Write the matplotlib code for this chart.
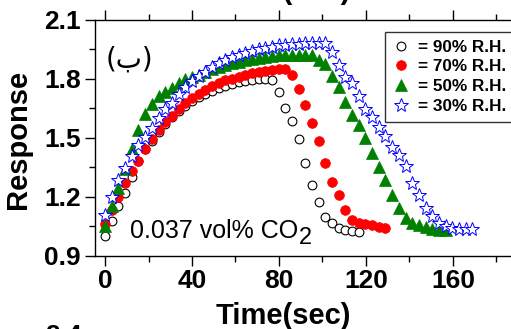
import matplotlib
matplotlib.use("Agg")
import matplotlib.pyplot as plt
from matplotlib.ticker import FixedLocator

plt.rcParams['font.family'] = ['Liberation Sans', 'DejaVu Sans']

# Time axis (s), sampled roughly every 3 s
time = [0.0, 3.1, 6.1, 9.2, 12.3, 15.4, 18.4, 21.5, 24.6, 27.6, 30.7, 33.8, 36.8, 39.9,
        43.0, 46.1, 49.1, 52.2, 55.3, 58.3, 61.4, 64.5, 67.5, 70.6, 73.7, 76.8, 79.8,
        82.9, 86.0, 89.0, 92.1, 95.2, 98.2, 101.3, 104.4, 107.5, 110.5, 113.6, 116.7,
        119.7, 122.8, 125.9, 128.9, 132.0, 135.1, 138.2, 141.2, 144.3, 147.4, 150.4,
        153.5, 156.6, 159.6, 162.7, 165.8, 168.9]

rh90 = [1.00, 1.075, 1.15, 1.22, 1.30, 1.38, 1.44, 1.48, 1.53, 1.57, 1.605, 1.635, 1.66,
        1.685, 1.705, 1.72, 1.735, 1.75, 1.76, 1.77, 1.78, 1.785, 1.79, 1.795, 1.795, 1.79,
        1.73, 1.65, 1.585, 1.49, 1.37, 1.26, 1.17, 1.095, 1.065, 1.042, 1.03, 1.025, 1.021]

rh70 = [1.06, 1.13, 1.20, 1.27, 1.33, 1.38, 1.44, 1.49, 1.54, 1.58, 1.61, 1.645, 1.675,
        1.70, 1.72, 1.74, 1.76, 1.775, 1.79, 1.80, 1.81, 1.82, 1.83, 1.835, 1.84, 1.845,
        1.85, 1.85, 1.82, 1.745, 1.665, 1.575, 1.48, 1.37, 1.275, 1.21, 1.13, 1.08, 1.066,
        1.06, 1.053, 1.046, 1.041]

rh50 = [1.05, 1.15, 1.245, 1.34, 1.44, 1.54, 1.62, 1.67, 1.71, 1.73, 1.75, 1.775, 1.795,
        1.81, 1.82, 1.835, 1.85, 1.86, 1.87, 1.878, 1.885, 1.892, 1.898, 1.904, 1.91, 1.914,
        1.917, 1.92, 1.922, 1.922, 1.922, 1.92, 1.895, 1.875, 1.815, 1.755, 1.68, 1.615,
        1.565, 1.495, 1.42, 1.35, 1.285, 1.21, 1.14, 1.09, 1.065, 1.053, 1.043, 1.036,
        1.03, 1.028]

rh30 = [1.105, 1.20, 1.285, 1.345, 1.405, 1.46, 1.505, 1.55, 1.60, 1.645, 1.675, 1.72,
        1.755, 1.785, 1.815, 1.835, 1.86, 1.88, 1.895, 1.91, 1.92, 1.93, 1.94, 1.948, 1.955,
        1.962, 1.968, 1.972, 1.975, 1.977, 1.978, 1.98, 1.98, 1.98, 1.935, 1.87, 1.81,
        1.775, 1.71, 1.645, 1.605, 1.555, 1.51, 1.45, 1.41, 1.355, 1.27, 1.21, 1.14, 1.10,
        1.066, 1.049, 1.041, 1.036, 1.036, 1.036]

labels = ['= 90% R.H.', '= 70% R.H.', '= 50% R.H.', '= 30% R.H.']
xticks = [0, 40, 80, 120, 160]
xminor = [20, 60, 100, 140, 180]
yticks = [0.9, 1.2, 1.5, 1.8, 2.1]
yminor = [1.05, 1.35, 1.65, 1.95]

W, H = 511, 329
fig = plt.figure(figsize=(W / 100, H / 100), dpi=100)
ax = fig.add_axes([95 / W, 73.5 / H, 423 / W, 236 / H])

h1, = ax.plot(time[:len(rh90)], rh90, linestyle='none', marker='o', ms=6.3,
              mfc='white', mec='black', mew=0.8)
h2, = ax.plot(time[:len(rh70)], rh70, linestyle='none', marker='o', ms=7.0,
              mfc='red', mec='red', mew=0.5)
h3, = ax.plot(time[:len(rh50)], rh50, linestyle='none', marker='^', ms=8.0,
              mfc='green', mec='green', mew=0.5)
h4, = ax.plot(time[:len(rh30)], rh30, linestyle='none', marker='*', ms=10.0,
              mfc='white', mec='blue', mew=0.7)

ax.set_xlim(-4.6, 189.9)
ax.set_ylim(0.9, 2.1)
ax.xaxis.set_major_locator(FixedLocator(xticks))
ax.xaxis.set_minor_locator(FixedLocator(xminor))
ax.yaxis.set_major_locator(FixedLocator(yticks))
ax.yaxis.set_minor_locator(FixedLocator(yminor))
ax.set_xticklabels([str(v) for v in xticks])
ax.set_yticklabels([f'{v:.1f}' for v in yticks])
ax.tick_params(which='both', direction='out', width=1, top=True, right=False)
ax.tick_params(which='major', length=7, labelsize=19, pad=3)
ax.tick_params(which='minor', length=4)
for lab in ax.get_xticklabels() + ax.get_yticklabels():
    lab.set_fontweight('bold')
for s in ax.spines.values():
    s.set_linewidth(1.0)

ax.set_xlabel('Time(sec)', fontsize=21, fontweight='bold')
ax.xaxis.set_label_coords((283 - 95) / 423, -46 / 236, transform=ax.transAxes)
ax.set_ylabel('Response', fontsize=21, fontweight='bold')
ax.yaxis.set_label_coords(-63 / 423, 0.49, transform=ax.transAxes)

leg = fig.legend([h1, h2, h3, h4], labels, loc='upper left',
                 bbox_to_anchor=(385 / W, 1 - 32 / H), frameon=True, fancybox=False,
                 prop={'weight': 'bold', 'size': 12.3}, handlelength=1.0, handletextpad=0.5,
                 labelspacing=0.28, borderpad=0.45, borderaxespad=0.0)
leg.get_frame().set_edgecolor('black')
leg.get_frame().set_linewidth(1.0)

fig.text(106 / W, 1 - 60 / H, '(ب)', fontsize=20, family=['DejaVu Sans'],
         va='center', ha='left')

t_main = fig.text(130 / W, 1 - 238 / H, '0.037 vol% CO', fontsize=18, ha='left',
                  va='baseline')
fig.canvas.draw()
bb = t_main.get_window_extent()
fig.text((bb.x1 + 0.5) / W, (1 - 244 / H), '2', fontsize=17, ha='left', va='baseline')

# fragments of neighbouring panels (cropped)
fig.text(283 / W, 1 + 1 / H, 'Time(sec)', fontsize=21, fontweight='bold', ha='center',
         va='baseline')
fig.text(82 / W, -14 / H, '2.4', fontsize=19, fontweight='bold', ha='right', va='baseline')

fig.savefig('out.png', dpi=100)
